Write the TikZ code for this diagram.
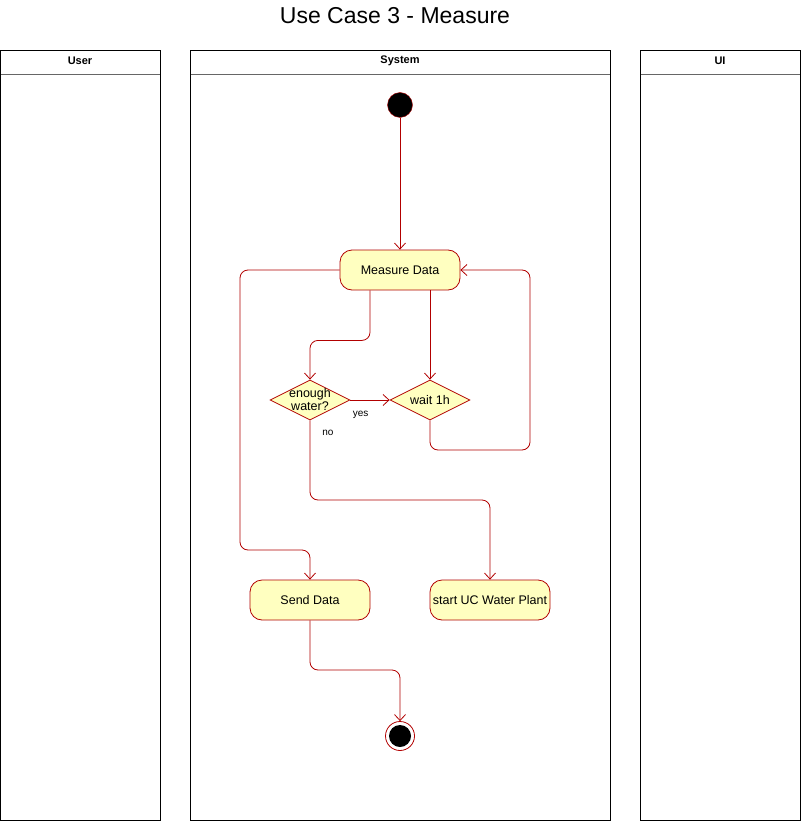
\documentclass[tikz,border=0pt]{standalone}
\usepackage{fontspec}
\setmainfont{Liberation Sans}
\usetikzlibrary{arrows.meta,shapes.geometric}
\definecolor{umlred}{HTML}{B20000}
\definecolor{umlfill}{HTML}{FFFFC0}
\begin{document}
\begin{tikzpicture}[x=1pt,y=-1pt,
  lane/.style={draw=black,line width=0.8pt},
  lanesep/.style={draw=black!60,line width=0.8pt},
  lanehead/.style={font=\bfseries\fontsize{11}{13}\selectfont},
  action/.style={draw=umlred,fill=umlfill,rounded corners=12pt,minimum width=120pt,minimum height=40pt,inner sep=0pt,font=\fontsize{12.5}{14}\selectfont,line width=0.8pt},
  decision/.style={draw=umlred,fill=umlfill,diamond,aspect=2,minimum width=80pt,minimum height=40pt,inner sep=0pt,line width=0.8pt},
  dtext/.style={font=\fontsize{12.5}{13}\selectfont,align=center,inner sep=0pt},
  edge/.style={draw=umlred,line width=0.8pt,rounded corners=8pt,-{Straight Barb[length=6pt,width=11pt]}},
  lbl/.style={font=\fontsize{10}{12}\selectfont,inner sep=1pt}]
\useasboundingbox (0,0) rectangle (801,821);
\fill[white] (0,0) rectangle (801,821);
% title
\node[font=\fontsize{23}{27}\selectfont] (title) at (395,16) {Use Case 3 - Measure};
% lanes
\draw[lane] (0.5,50) rectangle (160,820);
\draw[lanesep] (1,74) -- (159.5,74);
\node[lanehead] (hUser) at (80,61) {User};
\draw[lane] (190,50) rectangle (610,820);
\draw[lanesep] (190.5,74) -- (609.5,74);
\node[lanehead] (hSys) at (400,61) {System};
\draw[lane] (640,50) rectangle (800.5,820);
\draw[lanesep] (640.5,74) -- (800,74);
\node[lanehead] (hUI) at (720,61) {UI};
% nodes
\node[circle,fill=black,draw=umlred,line width=0.4pt,minimum size=25pt,inner sep=0pt] (start) at (400,105) {};
\node[action] (md) at (400,270) {Measure Data};
\node[decision] (ew) at (310,400) {};
\node[dtext] (ewt) at (310,400) {enough\\water?};
\node[decision] (w1) at (430,400) {};
\node[dtext] (w1t) at (430,400) {wait 1h};
\node[action] (sd) at (310,600) {Send Data};
\node[action] (uc) at (490,600) {start UC Water Plant};
\node[circle,draw=umlred,fill=white,line width=0.8pt,minimum size=29pt,inner sep=0pt] (end) at (400,736) {};
\node[circle,fill=black,minimum size=22pt,inner sep=0pt] (endin) at (400,736) {};
% edges
\draw[edge] (start) -- (md.north);
\draw[edge] ([xshift=-30pt]md.south) -- ++(0,50) -| (ew.north);
\draw[edge] ([xshift=30pt]md.south) -- (w1.north);
\draw[edge] (ew.east) -- node[lbl,pos=0,anchor=north west,xshift=1pt,yshift=-10pt]{yes} (w1.west);
\draw[edge] (w1.south) |- (530,450) |- (md.east);
\draw[edge] (ew.south) -- node[lbl,pos=0.15,anchor=west,xshift=11pt,yshift=-1pt]{no} (310,500) -| (uc.north);
\draw[edge] (md.west) -| (240,550) -| (sd.north);
\draw[edge] (sd.south) -- (310,670) -| (end.north);
\end{tikzpicture}
\end{document}
